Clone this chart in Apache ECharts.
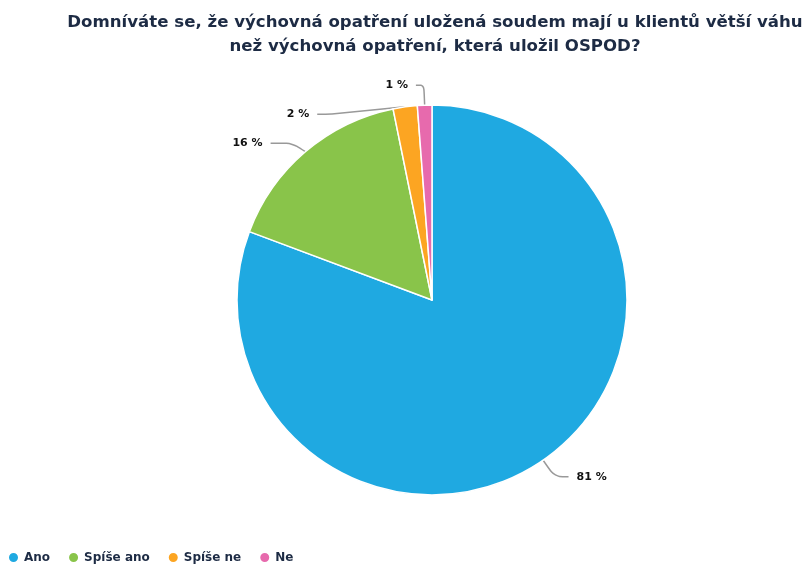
<!DOCTYPE html>
<html>
<head>
<meta charset="utf-8">
<script src="https://cdn.jsdelivr.net/npm/echarts@6/dist/echarts.min.js"></script>
<style>html,body{margin:0;padding:0;background:#fff;}#c{width:805px;height:566px;}</style>
</head>
<body>
<div id="c"></div>
<script>
const titleText = 'Domníváte se, že výchovná opatření uložená soudem mají u klientů větší váhu\nnež výchovná opatření, která uložil OSPOD?';
const categories = ['Ano', 'Spíše ano', 'Spíše ne', 'Ne'];
const values = [80.7, 16.1, 2.0, 1.2];
const colors = ['#1fa9e1', '#89c44a', '#fca522', '#e76aad'];

const chart = echarts.init(document.getElementById('c'), null, {renderer: 'canvas'});
chart.setOption({
  animation: false,
  color: colors,
  title: {
    text: titleText,
    left: 430,
    textAlign: 'center',
    top: 6,
    textStyle: {
      fontFamily: 'DejaVu Sans',
      fontWeight: 'bold',
      fontSize: 16.6,
      lineHeight: 24,
      color: '#1d2b44'
    }
  },
  legend: {
    left: 2,
    top: 546,
    icon: 'circle',
    itemWidth: 11,
    itemHeight: 11,
    itemGap: 17,
    textStyle: {
      fontFamily: 'DejaVu Sans',
      fontWeight: 'bold',
      fontSize: 12,
      color: '#1d2b44'
    },
    data: categories
  },
  series: [{
    type: 'pie',
    center: [432, 300],
    radius: 195,
    startAngle: 90,
    clockwise: true,
    avoidLabelOverlap: true,
    data: categories.map((c, i) => {
      const d = {name: c, value: values[i]};
      if (i === 1) d.labelLine = {length2: 22};
      if (i === 3) d.labelLine = {length2: 8};
      return d;
    }),
    itemStyle: {borderColor: '#ffffff', borderWidth: 1.5},
    label: {
      show: true,
      position: 'outside',
      formatter: p => Math.round(p.value) + ' %',
      fontFamily: 'DejaVu Sans',
      fontWeight: 'bold',
      fontSize: 11,
      lineHeight: 27,
      color: '#111111',
      distanceToLabelLine: 8
    },
    labelLine: {
      show: true,
      length: 20,
      length2: 14,
      smooth: 0.3,
      lineStyle: {color: '#999999', width: 1.5}
    }
  }]
});
</script>
</body>
</html>
